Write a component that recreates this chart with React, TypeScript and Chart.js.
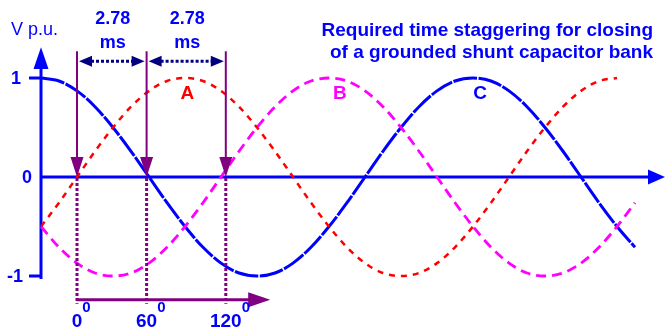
import React, { useEffect, useRef } from "react";
import { Chart, registerables } from "chart.js";

Chart.register(...registerables);

// Phase angle (degrees) of the sampled points
const angles = [-30, -15, 0, 15, 30, 45, 60, 75, 90, 105, 120, 135, 150, 165, 180, 195, 210, 225, 240, 255, 270, 285, 300, 315, 330, 345, 360, 375, 390, 405, 420, 435, 450, 465];
// Voltages in p.u.
const phaseA = [-0.5, -0.26, 0, 0.26, 0.5, 0.71, 0.87, 0.97, 1, 0.97, 0.87, 0.71, 0.5, 0.26, 0, -0.26, -0.5, -0.71, -0.87, -0.97, -1, -0.97, -0.87, -0.71, -0.5, -0.26, 0, 0.26, 0.5, 0.71, 0.87, 0.97, 1, null];
const phaseB = [-0.5, -0.71, -0.87, -0.97, -1, -0.97, -0.87, -0.71, -0.5, -0.26, 0, 0.26, 0.5, 0.71, 0.87, 0.97, 1, 0.97, 0.87, 0.71, 0.5, 0.26, 0, -0.26, -0.5, -0.71, -0.87, -0.97, -1, -0.97, -0.87, -0.71, -0.5, -0.26];
const phaseC = [1, 0.97, 0.87, 0.71, 0.5, 0.26, 0, -0.26, -0.5, -0.71, -0.87, -0.97, -1, -0.97, -0.87, -0.71, -0.5, -0.26, 0, 0.26, 0.5, 0.71, 0.87, 0.97, 1, 0.97, 0.87, 0.71, 0.5, 0.26, 0, -0.26, -0.5, -0.71];

const curveLabels = ["A", "B", "C"];
const curveLabelAngles = [92, 219, 336];
const curveLabelValue = 0.79;

const markerAngles = [0, 58, 124];
const markerLabels = ["0", "60", "120"];
const staggerLabels = ["2.78", "2.78"];
const staggerUnit = "ms";
const yTickValues = [1, 0, -1];
const yTickLabels = ["1", "0", "-1"];
const yAxisLabel = "V p.u.";
const titleLines = ["Required time staggering for closing", "of a grounded shunt capacitor bank"];

const BLUE = "#0000ff";
const RED = "#ff0000";
const MAGENTA = "#ff00ff";
const PURPLE = "#800080";
const NAVY = "#000080";
const FONT = "'Liberation Sans', Arial, sans-serif";

function tri(ctx: CanvasRenderingContext2D, pts: number[][], color: string) {
  ctx.beginPath();
  ctx.moveTo(pts[0][0], pts[0][1]);
  for (let i = 1; i < pts.length; i++) ctx.lineTo(pts[i][0], pts[i][1]);
  ctx.closePath();
  ctx.fillStyle = color;
  ctx.fill();
}

const axesPlugin = {
  id: "axesPlugin",
  beforeDatasetsDraw(chart: any) {
    const ctx: CanvasRenderingContext2D = chart.ctx;
    const xs = chart.scales.x;
    const ys = chart.scales.y;
    const x0 = xs.getPixelForValue(angles[0]);
    const y0 = ys.getPixelForValue(0);
    const right = chart.chartArea.right;
    ctx.save();
    ctx.strokeStyle = BLUE;
    ctx.lineWidth = 3;
    ctx.lineCap = "butt";
    // vertical axis
    ctx.beginPath();
    ctx.moveTo(x0, ys.getPixelForValue(-1.03));
    ctx.lineTo(x0, ys.getPixelForValue(1.1));
    ctx.stroke();
    tri(ctx, [[x0, ys.getPixelForValue(1.31)], [x0 - 7.5, ys.getPixelForValue(1.09)], [x0 + 7.5, ys.getPixelForValue(1.09)]], BLUE);
    // horizontal axis
    ctx.beginPath();
    ctx.moveTo(x0, y0);
    ctx.lineTo(right - 16, y0);
    ctx.stroke();
    tri(ctx, [[right, y0], [right - 17, y0 - 7.5], [right - 17, y0 + 7.5]], BLUE);
    // ticks
    [1, -1].forEach((v) => {
      const py = ys.getPixelForValue(v);
      ctx.beginPath();
      ctx.moveTo(x0 - 12, py);
      ctx.lineTo(x0, py);
      ctx.stroke();
    });
    // tick labels
    ctx.fillStyle = BLUE;
    ctx.font = `bold 18px ${FONT}`;
    ctx.textAlign = "right";
    ctx.textBaseline = "middle";
    const tickRight = [21, 32, 23];
    yTickValues.forEach((v, i) => {
      ctx.fillText(yTickLabels[i], x0 - 41 + tickRight[i], ys.getPixelForValue(v) + 1);
    });
    ctx.restore();
  },
  afterDatasetsDraw(chart: any) {
    const ctx: CanvasRenderingContext2D = chart.ctx;
    const xs = chart.scales.x;
    const ys = chart.scales.y;
    const y0 = ys.getPixelForValue(0);
    const yTop = ys.getPixelForValue(1.27);
    const yBot = ys.getPixelForValue(-1.28);
    const yArrow = ys.getPixelForValue(-1.24);
    const yDim = ys.getPixelForValue(1.17);
    const mx = markerAngles.map((a) => xs.getPixelForValue(a));
    ctx.save();
    // vertical marker lines
    mx.forEach((px) => {
      ctx.strokeStyle = PURPLE;
      ctx.lineWidth = 2;
      ctx.setLineDash([]);
      ctx.beginPath();
      ctx.moveTo(px, yTop);
      ctx.lineTo(px, y0 - 18);
      ctx.stroke();
      tri(ctx, [[px, y0], [px - 6.5, y0 - 20], [px + 6.5, y0 - 20]], PURPLE);
      ctx.lineWidth = 3;
      ctx.setLineDash([3, 2]);
      ctx.beginPath();
      ctx.moveTo(px, y0 + 1);
      ctx.lineTo(px, yBot);
      ctx.stroke();
    });
    // bottom arrow
    ctx.setLineDash([]);
    ctx.lineWidth = 3;
    ctx.strokeStyle = PURPLE;
    const arrowEnd = xs.getPixelForValue(161);
    ctx.beginPath();
    ctx.moveTo(mx[0], yArrow);
    ctx.lineTo(arrowEnd - 20, yArrow);
    ctx.stroke();
    tri(ctx, [[arrowEnd, yArrow], [arrowEnd - 22, yArrow - 7.5], [arrowEnd - 22, yArrow + 7.5]], PURPLE);
    // dimension arrows
    for (let i = 0; i < mx.length - 1; i++) {
      const a = mx[i] + 2;
      const b = mx[i + 1] - 2;
      ctx.strokeStyle = NAVY;
      ctx.lineWidth = 3;
      ctx.setLineDash([3, 2]);
      ctx.beginPath();
      ctx.moveTo(a + 12, yDim);
      ctx.lineTo(b - 12, yDim);
      ctx.stroke();
      ctx.setLineDash([]);
      tri(ctx, [[a, yDim], [a + 13, yDim - 5.5], [a + 13, yDim + 5.5]], NAVY);
      tri(ctx, [[b, yDim], [b - 13, yDim - 5.5], [b - 13, yDim + 5.5]], NAVY);
      const cx = (mx[i] + mx[i + 1]) / 2 + 1;
      ctx.fillStyle = BLUE;
      ctx.font = `bold 18px ${FONT}`;
      ctx.textAlign = "center";
      ctx.textBaseline = "alphabetic";
      ctx.fillText(staggerLabels[i], cx, 24);
      ctx.fillText(staggerUnit, cx, 48);
    }
    // degree labels
    ctx.fillStyle = BLUE;
    ctx.textBaseline = "alphabetic";
    mx.forEach((px, i) => {
      ctx.font = `bold 19px ${FONT}`;
      ctx.textAlign = "center";
      const w = ctx.measureText(markerLabels[i]).width;
      ctx.fillText(markerLabels[i], px, 327);
      ctx.font = `bold 15px ${FONT}`;
      ctx.textAlign = "left";
      ctx.fillText("0", px + w / 2, 312);
    });
    // curve labels
    const colors = [RED, MAGENTA, BLUE];
    ctx.font = `bold 19px ${FONT}`;
    ctx.textAlign = "center";
    curveLabels.forEach((t, i) => {
      ctx.fillStyle = colors[i];
      ctx.fillText(t, xs.getPixelForValue(curveLabelAngles[i]), ys.getPixelForValue(curveLabelValue));
    });
    // axis label
    ctx.fillStyle = BLUE;
    ctx.font = `18px ${FONT}`;
    ctx.textAlign = "left";
    ctx.fillText(yAxisLabel, 11, 35);
    // title
    ctx.font = `bold 19px ${FONT}`;
    ctx.textAlign = "right";
    ctx.fillText(titleLines[0], 653, 36);
    ctx.fillText(titleLines[1], 653, 58);
    ctx.restore();
  },
};

export default function App() {
  const ref = useRef<HTMLCanvasElement>(null);
  useEffect(() => {
    document.body.style.margin = "0";
    const mk = (vals: (number | null)[]) => angles.map((a, i) => ({ x: a, y: vals[i] }));
    const chart = new Chart(ref.current as HTMLCanvasElement, {
      type: "line",
      data: {
        datasets: [
          { label: "A", data: mk(phaseA), borderColor: RED, borderWidth: 2.5, borderDash: [6, 6], pointRadius: 0, cubicInterpolationMode: "monotone", fill: false, clip: false } as any,
          { label: "B", data: mk(phaseB), borderColor: MAGENTA, borderWidth: 2.8, borderDash: [10, 6], pointRadius: 0, cubicInterpolationMode: "monotone", fill: false, clip: false } as any,
          { label: "C", data: mk(phaseC), borderColor: BLUE, borderWidth: 3, borderDash: [24, 1.5], pointRadius: 0, cubicInterpolationMode: "monotone", fill: false, clip: false } as any,
        ],
      },
      options: {
        animation: false,
        responsive: false,
        devicePixelRatio: 1,
        layout: { padding: { left: 41, right: 0, top: 28.5, bottom: 6.5 } },
        plugins: { legend: { display: false }, tooltip: { enabled: false }, title: { display: false } },
        scales: {
          x: { type: "linear", min: -30, max: 490, display: false },
          y: { type: "linear", min: -1.5, max: 1.5, display: false },
        },
      },
      plugins: [axesPlugin],
    });
    return () => chart.destroy();
  }, []);
  return (
    <div style={{ position: "absolute", left: 0, top: 0, width: 665, height: 332, background: "#fff" }}>
      <canvas ref={ref} width={665} height={332} style={{ width: 665, height: 332, display: "block" }} />
    </div>
  );
}
